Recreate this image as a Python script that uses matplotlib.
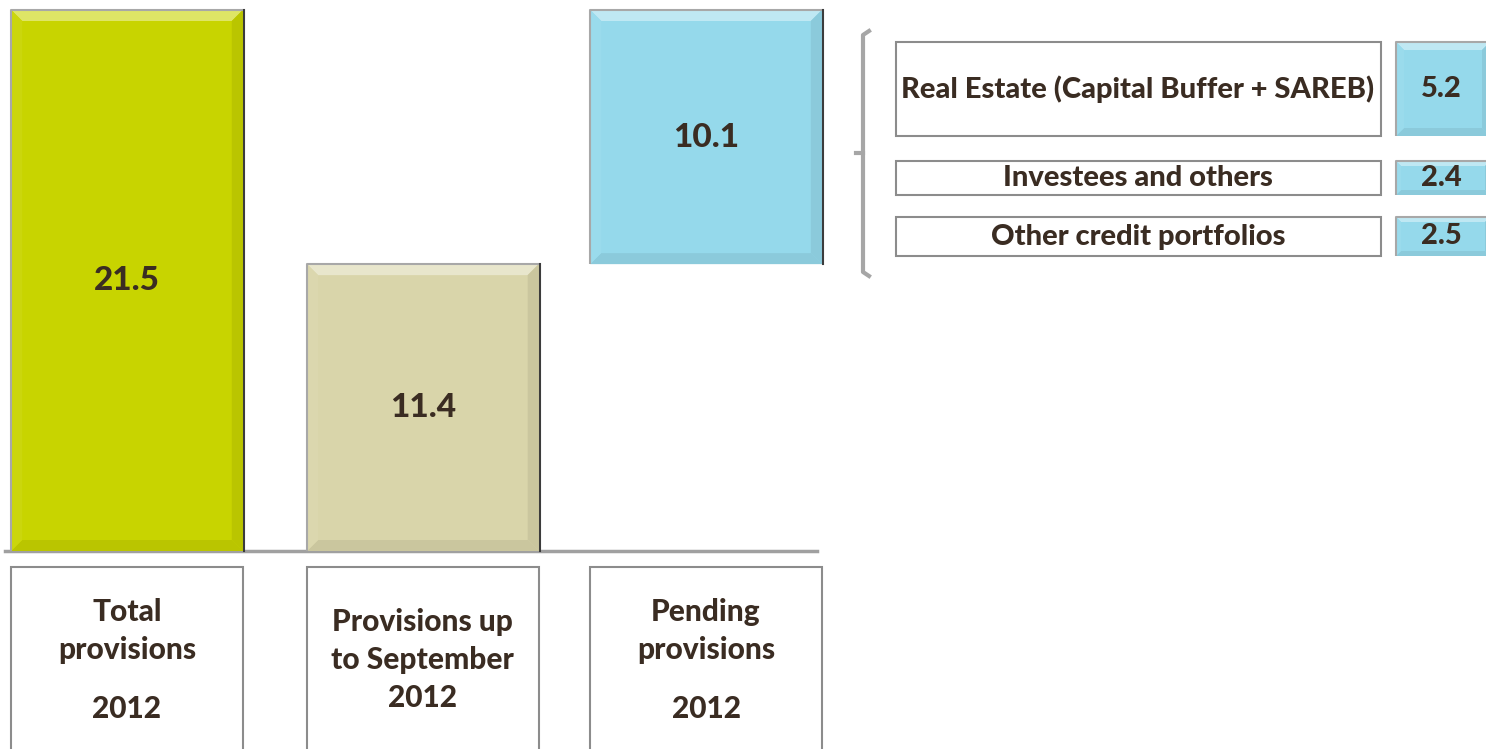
import matplotlib.pyplot as plt
from matplotlib.patches import Polygon, Rectangle
from matplotlib.colors import to_rgb

# data
categories = ["Total\nprovisions", "Provisions up\nto September", "Pending\nprovisions"]
years = ["2012", "2012", "2012"]
values = [21.5, 11.4, 10.1]
bottoms = [0.0, 0.0, 11.4]
bar_colors = ["#C8D400", "#D9D5AA", "#95D9EB"]

breakdown_labels = ["Real Estate (Capital Buffer + SAREB)", "Investees and others", "Other credit portfolios"]
breakdown_values = [5.2, 2.4, 2.5]

# layout
bar_pos = [0, 1.022, 2]
name_y = [631, 641, 631]   # centre of the two-line category name (pixels)
year_y = [709, 698, 709]

TEXT = "#3A2C22"
FONT = ["Lato", "DejaVu Sans"]
W, H = 1486, 749


def shade(color, f):
    r, g, b = to_rgb(color)
    if f > 0:
        return (r + (1 - r) * f, g + (1 - g) * f, b + (1 - b) * f)
    return (r * (1 + f), g * (1 + f), b * (1 + f))


def bevel_box(ax, l, t, r, b, color, d=10):
    """Beveled box in pixel coords (top smaller than bottom)."""
    ax.add_patch(Rectangle((l, t), r - l, b - t, facecolor=color, edgecolor="none", zorder=3))
    polys = [
        ([(l, t), (r, t), (r - d, t + d), (l + d, t + d)], shade(color, 0.4)),
        ([(l, b), (r, b), (r - d, b - d), (l + d, b - d)], shade(color, -0.07)),
        ([(l, t), (l + d, t + d), (l + d, b - d), (l, b)], shade(color, 0.05)),
        ([(r, t), (r - d, t + d), (r - d, b - d), (r, b)], shade(color, -0.07)),
    ]
    for pts, c in polys:
        ax.add_patch(Polygon(pts, closed=True, facecolor=c, edgecolor="none", zorder=3))
    ax.plot([l, l, r], [b, t, t], color="#A8A8A8", lw=1.5, zorder=4, solid_capstyle="butt")
    ax.plot([r + 1, r + 1], [t, b], color="#3C3C3C", lw=1.5, zorder=4)


fig = plt.figure(figsize=(W / 100, H / 100), dpi=100)

# bar axes: baseline at y=551px, top of 21.5 at y=10px
ax_left, ax_right = 5.4, 827.6
ax = fig.add_axes([ax_left / W, (H - 551) / H, (ax_right - ax_left) / W, 541 / H])
ax.set_xlim(-0.42, 2.42)
ax.set_ylim(0, max(values))
ax.axis("off")
bars = ax.bar(bar_pos, values, bottom=bottoms, width=0.8, color="none")

# overlay in pixel coordinates for decorations
ov = fig.add_axes([0, 0, 1, 1], zorder=5)
ov.set_xlim(0, W)
ov.set_ylim(H, 0)
ov.axis("off")

ov.plot([5, 817], [551, 551], color="#A0A0A0", lw=2.5, zorder=2)

for i, bar in enumerate(bars):
    (x0, y0), (x1, y1) = ax.transData.transform([(bar.get_x(), bar.get_y()),
                                                 (bar.get_x() + bar.get_width(), bar.get_y() + bar.get_height())])
    l, r, b, t = x0, x1, H - y0, H - y1
    bevel_box(ov, l, t, r, b, bar_colors[i], d=11)
    ov.text((l + r) / 2, (t + b) / 2, f"{values[i]:.1f}", ha="center", va="center", fontsize=24,
            fontweight="black", color=TEXT, family=FONT, zorder=6)
    # category label box
    ov.add_patch(Rectangle((l, 567), r - l, 190, facecolor="white", edgecolor="#8C8C8C", lw=1.5, zorder=3))
    ov.text((l + r) / 2, name_y[i], categories[i], ha="center", va="center", fontsize=21.5,
            fontweight="black", color=TEXT, family=FONT, linespacing=1.45, zorder=6)
    ov.text((l + r) / 2, year_y[i], years[i], ha="center", va="center", fontsize=21.5,
            fontweight="black", color=TEXT, family=FONT, zorder=6)

# bracket
ov.plot([869, 863, 863, 869], [31, 35, 272, 276], color="#A6A6A6", lw=3, zorder=2)
ov.plot([863, 856], [153, 153], color="#A6A6A6", lw=3, zorder=2)

# breakdown of pending provisions
rows = [(42, 136), (161, 195), (217, 256)]
for (t, b), lab, val in zip(rows, breakdown_labels, breakdown_values):
    ov.add_patch(Rectangle((896, t), 485, b - t, facecolor="white", edgecolor="#8C8C8C", lw=1.5, zorder=3))
    ov.text(1138, (t + b) / 2, lab, ha="center", va="center", fontsize=21,
            fontweight="black", color=TEXT, family=FONT, zorder=6)
    bevel_box(ov, 1396, t, 1490, b, bar_colors[2], d=8 if b - t > 50 else 5)
    ov.text(1441, (t + b) / 2, f"{val:.1f}", ha="center", va="center", fontsize=21,
            fontweight="black", color=TEXT, family=FONT, zorder=6)

fig.savefig("out.png", dpi=100)
